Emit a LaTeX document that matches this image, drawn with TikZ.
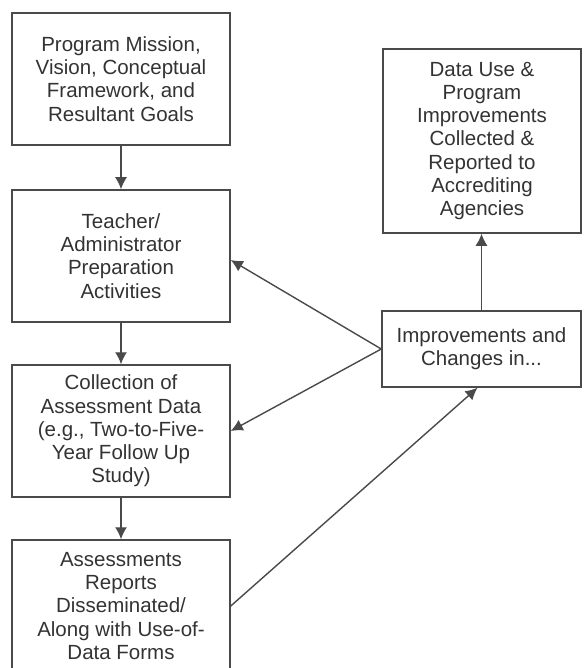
\documentclass[tikz,border=0pt]{standalone}
\usepackage{fontspec}
\setmainfont{Liberation Sans}
\usetikzlibrary{arrows.meta}
\definecolor{linegray}{HTML}{4A4A4A}
\definecolor{textgray}{HTML}{333333}
\tikzset{
  box/.style={draw=linegray, line width=1.5pt, rectangle, align=center, inner sep=0pt,
    text=textgray, font=\fontsize{20.5}{23.3}\selectfont},
  conn/.style={draw=linegray, line width=1.4pt, -{Latex[length=12pt,width=12pt]}}
}
\begin{document}
\begin{tikzpicture}[x=1pt,y=-1pt]
\useasboundingbox (0,0) rectangle (583,668);
\fill[white] (0,0) rectangle (583,668);
\node[box, minimum width=218pt, minimum height=132pt] (A) at (121,79)
  {Program Mission,\\Vision, Conceptual\\Framework, and\\Resultant Goals};
\node[box, minimum width=218pt, minimum height=132pt] (B) at (121,256)
  {Teacher/\\Administrator\\Preparation\\Activities};
\node[box, minimum width=218pt, minimum height=132pt] (C) at (121,431)
  {Collection of\\Assessment Data\\(e.g., Two-to-Five-\\Year Follow Up\\Study)};
\node[box, minimum width=218pt, minimum height=132pt] (D) at (121,606)
  {Assessments\\Reports\\Disseminated/\\Along with Use-of-\\Data Forms};
\node[box, minimum width=198pt, minimum height=184pt] (E) at (482,141)
  {Data Use \&\\Program\\Improvements\\Collected \&\\Reported to\\Accrediting\\Agencies};
\node[box, minimum width=199pt, minimum height=76pt] (F) at (481.5,349)
  {Improvements and\\Changes in...};
\draw[conn] (A.south) -- (B.north);
\draw[conn] (B.south) -- (C.north);
\draw[conn] (C.south) -- (D.north);
\draw[conn] (F.north) -- (F.north |- E.south);
\draw[conn] (F.west) -- ([yshift=-4pt]B.east);
\draw[conn] (F.west) -- (C.east);
\draw[conn] (D.east) -- ([xshift=-4pt]F.south);
\end{tikzpicture}
\end{document}
